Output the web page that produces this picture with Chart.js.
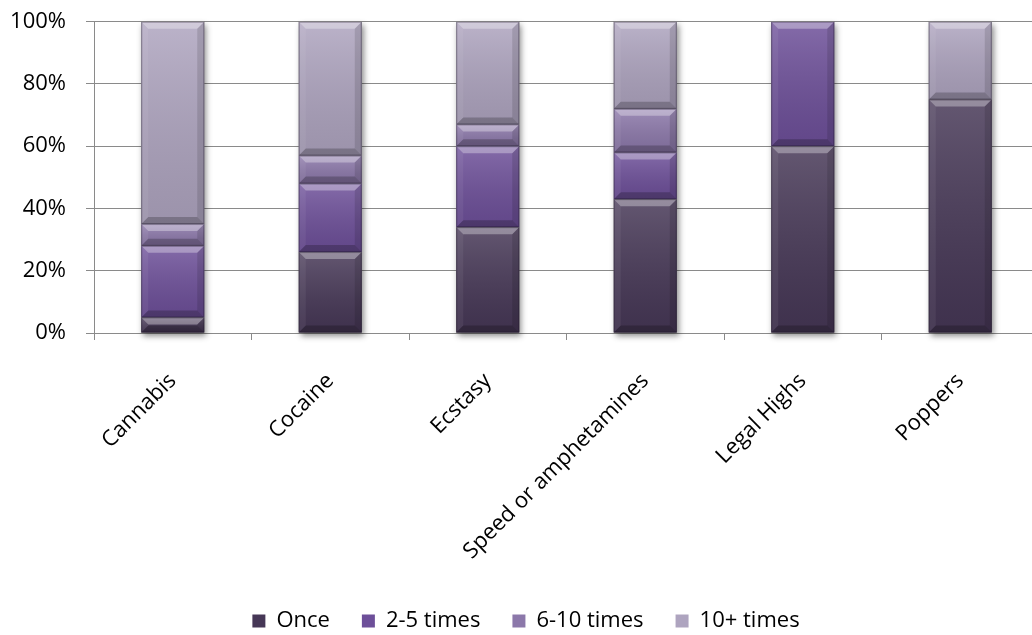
<!DOCTYPE html>
<html>
<head>
<meta charset="utf-8">
<title>Frequency of use by drug</title>
<script src="https://cdn.jsdelivr.net/npm/chart.js@4"></script>
<style>
  html, body { margin: 0; padding: 0; background: #ffffff; overflow: hidden; }
  #wrap { position: relative; width: 1052px; height: 642px; }
</style>
</head>
<body>
<div id="wrap"><canvas id="chart"></canvas></div>
<script>
// Drugs shown along the x axis
const drugs = ['Cannabis', 'Cocaine', 'Ecstasy', 'Speed or amphetamines', 'Legal Highs', 'Poppers'];

// Share of users (%) by how often they used each drug
const once       = [5, 26, 34, 43, 60, 75];
const twoToFive  = [23, 22, 26, 15, 40, 0];
const sixToTen   = [7, 9, 7, 14, 0, 0];
const tenPlus    = [65, 43, 33, 28, 0, 25];

const seriesNames  = ['Once', '2-5 times', '6-10 times', '10+ times'];
const seriesColors = ['#463756', '#6d4f99', '#8c78aa', '#aea4bf'];

const yTicks = [0, 20, 40, 60, 80, 100];

const FONT = "'Open Sans', sans-serif";

// Gives each stacked column a soft drop shadow and each segment a bevelled look
const bevelPlugin = {
  id: 'bevel',
  beforeDatasetsDraw(chart) {
    const ctx = chart.ctx;
    const metas = chart.getSortedVisibleDatasetMetas();
    ctx.save();
    for (let i = 0; i < chart.data.labels.length; i++) {
      let top = Infinity, bottom = -Infinity, left = 0, right = 0;
      metas.forEach(m => {
        const p = m.data[i].getProps(['x', 'y', 'base', 'width'], true);
        if (Math.abs(p.base - p.y) < 0.5) return;
        top = Math.min(top, p.y, p.base);
        bottom = Math.max(bottom, p.y, p.base);
        left = p.x - p.width / 2;
        right = p.x + p.width / 2;
      });
      if (!isFinite(top)) continue;
      ctx.shadowColor = 'rgba(0,0,0,0.45)';
      ctx.shadowBlur = 6;
      ctx.shadowOffsetX = 2;
      ctx.shadowOffsetY = 3;
      ctx.fillStyle = '#6a6a6a';
      ctx.fillRect(left, top, right - left, bottom - top);
    }
    ctx.restore();
  },
  afterDatasetsDraw(chart) {
    const ctx = chart.ctx;
    ctx.save();
    chart.getSortedVisibleDatasetMetas().forEach(m => {
      m.data.forEach(el => {
        const p = el.getProps(['x', 'y', 'base', 'width'], true);
        const t = Math.min(p.y, p.base), b = Math.max(p.y, p.base);
        const l = p.x - p.width / 2, r = p.x + p.width / 2;
        if (b - t < 1) return;
        const g = ctx.createLinearGradient(0, t, 0, b);
        g.addColorStop(0, 'rgba(255,255,255,0.16)');
        g.addColorStop(1, 'rgba(0,0,0,0.10)');
        ctx.fillStyle = g;
        ctx.fillRect(l, t, r - l, b - t);
        const s = Math.min(7, (b - t) / 2, (r - l) / 2);
        const poly = (pts, c) => {
          ctx.beginPath();
          ctx.moveTo(pts[0][0], pts[0][1]);
          for (let k = 1; k < pts.length; k++) ctx.lineTo(pts[k][0], pts[k][1]);
          ctx.closePath();
          ctx.fillStyle = c;
          ctx.fill();
        };
        poly([[l, t], [r, t], [r - s, t + s], [l + s, t + s]], 'rgba(255,255,255,0.32)');
        poly([[l, b], [r, b], [r - s, b - s], [l + s, b - s]], 'rgba(0,0,0,0.22)');
        poly([[l, t], [l + s, t + s], [l + s, b - s], [l, b]], 'rgba(255,255,255,0.06)');
        poly([[r, t], [r - s, t + s], [r - s, b - s], [r, b]], 'rgba(0,0,0,0.12)');
        ctx.strokeStyle = 'rgba(30,20,40,0.35)';
        ctx.lineWidth = 1;
        ctx.strokeRect(l + 0.5, t + 0.5, r - l - 1, b - t - 1);
      });
    });
    ctx.restore();
  }
};

const seriesValues = [once, twoToFive, sixToTen, tenPlus];

new Chart(document.getElementById('chart'), {
  type: 'bar',
  data: {
    labels: drugs,
    datasets: seriesNames.map((name, i) => ({
      label: name,
      data: seriesValues[i],
      backgroundColor: seriesColors[i],
      borderWidth: 0,
      barPercentage: 0.4,
      categoryPercentage: 1.0
    }))
  },
  options: {
    responsive: true,
    maintainAspectRatio: false,
    animation: false,
    layout: { padding: { top: 21.7, right: 0, left: 0, bottom: 0 } },
    plugins: {
      tooltip: { enabled: false },
      legend: {
        position: 'bottom',
        labels: {
          font: { family: FONT, size: 22 },
          color: '#000000',
          boxWidth: 13,
          boxHeight: 13,
          padding: 32
        }
      }
    },
    scales: {
      x: {
        stacked: true,
        grid: {
          offset: true,
          drawOnChartArea: false,
          drawTicks: true,
          tickLength: 7,
          color: '#8a8a8a'
        },
        border: { color: '#8a8a8a', width: 1 },
        ticks: {
          font: { family: FONT, size: 22 },
          color: '#000000',
          maxRotation: 45,
          minRotation: 45,
          padding: 28,
          autoSkip: false
        },
        afterFit(scale) { scale.height = 245; }
      },
      y: {
        stacked: true,
        min: 0,
        max: 100,
        afterBuildTicks(scale) { scale.ticks = yTicks.map(v => ({ value: v })); },
        grid: {
          color: '#8a8a8a',
          tickLength: 8,
          drawTicks: true
        },
        border: { color: '#8a8a8a', width: 1 },
        ticks: {
          font: { family: FONT, size: 22 },
          color: '#000000',
          padding: 20,
          callback: v => v + '%'
        },
        afterFit(scale) {
          scale.width = 94;
          scale.paddingTop = 0;
          scale.paddingBottom = 0;
        }
      },
      // empty strip on the right so the plot stops short of the canvas edge
      spacer: {
        type: 'linear',
        position: 'right',
        display: true,
        grid: { display: false },
        border: { display: false },
        ticks: { display: false },
        afterFit(scale) { scale.width = 13; }
      }
    }
  },
  plugins: [bevelPlugin]
});
</script>
</body>
</html>
